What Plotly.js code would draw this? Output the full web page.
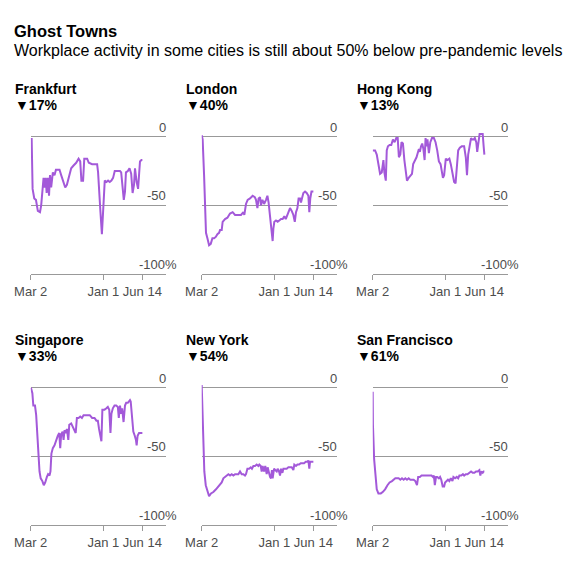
<!DOCTYPE html>
<html>
<head>
<meta charset="utf-8">
<script src="https://cdn.plot.ly/plotly-3.0.1.min.js"></script>
<style>html,body{margin:0;padding:0;background:#fff;}#chart{width:572px;height:569px;}</style>
</head>
<body>
<div id="chart"></div>
<script>
// ---- Data (days since Mar 2, 2020 ; % change in workplace activity) ----
const cityNames = ['Frankfurt', 'London', 'Hong Kong', 'Singapore', 'New York', 'San Francisco'];
const cityChanges = ['▼17%', '▼40%', '▼13%', '▼33%', '▼54%', '▼61%'];

const frankfurtDays = [4,8,15,22,30,39,44,49,54,58,63,67,72,77,81,86,93,100,106,113,121,128,138,145,152,162,170,180,191,201,208,213,220,225,237,244,258,272,279,283,289,293,299,303,307,311,318,325,332,339,346,353,363,375,380,386,391,396,400,408,415,422,428,434,438,445,451,455,459,465,469];
const frankfurtValues = [-1,-38,-45,-46,-54,-55,-50,-39,-30,-37,-30,-41,-30,-43,-28,-37,-26,-28,-24,-24,-24,-28,-33,-37,-35,-28,-23,-21,-19,-16,-18,-32,-32,-16,-16,-19,-20,-20,-20,-26,-40,-55,-71,-57,-35,-32,-33,-32,-33,-32,-30,-25,-25,-25,-26,-35,-46,-40,-26,-25,-23,-27,-41,-35,-23,-33,-38,-28,-18,-17,-17];

const londonDays = [0,4,10,14,18,24,31,38,45,52,59,66,73,77,84,88,98,108,119,130,140,151,165,175,179,186,193,203,214,223,228,234,239,245,249,255,262,270,276,281,287,293,298,301,305,312,319,326,333,340,347,353,360,365,371,378,385,391,396,402,407,413,417,421,427,434,441,448,452,456,461,465,469];
const londonValues = [1,-2,-28,-52,-70,-74,-79,-78,-74,-74,-73,-71,-70,-68,-68,-62,-60,-59,-56,-55,-57,-57,-57,-55,-57,-49,-46,-45,-43,-44,-46,-52,-45,-44,-50,-46,-49,-46,-43,-48,-60,-70,-76,-67,-62,-61,-62,-61,-60,-60,-58,-60,-57,-54,-52,-54,-57,-62,-55,-52,-45,-45,-48,-45,-41,-40,-41,-43,-55,-45,-40,-40,-40];

const hongKongDays = [0,10,17,24,31,38,45,49,55,59,64,71,78,85,92,99,105,110,116,121,127,133,140,144,151,158,165,170,177,184,194,198,203,208,213,218,222,226,230,236,242,249,257,264,271,278,285,290,295,300,307,314,322,328,335,342,348,353,359,366,374,384,391,396,401,407,413,418,424,429,435,439,444,449,458,462,466,469];
const hongKongValues = [-10,-10,-13,-20,-27,-26,-17,-26,-32,-10,-7,-6,-6,-2,-4,-1,-1,-15,-13,-4,-5,-17,-26,-32,-30,-28,-27,-20,-17,-15,-9,-11,-7,-5,-9,-17,-1,-7,-2,-12,-4,-1,-1,-4,-10,-18,-20,-26,-30,-28,-16,-17,-16,-20,-28,-33,-34,-21,-10,-8,-7,-7,-15,-28,-13,-7,-1,-2,-2,-1,-4,-11,-4,2,2,2,-7,-13];

const singaporeDays = [1,7,11,18,23,28,32,37,42,49,55,61,68,73,79,83,87,93,100,107,114,120,124,128,134,138,142,149,152,158,162,170,177,183,189,194,201,208,215,222,231,239,248,258,268,276,282,287,293,297,301,310,318,324,330,335,339,345,352,359,366,370,375,380,384,390,396,401,408,417,420,424,431,437,442,445,449,455,462,469];
const singaporeValues = [0,-4,-13,-13,-20,-35,-52,-61,-66,-68,-71,-69,-65,-63,-64,-61,-48,-44,-42,-38,-35,-33,-44,-34,-32,-38,-31,-33,-30,-38,-27,-26,-29,-31,-33,-22,-22,-21,-22,-20,-20,-20,-20,-22,-22,-24,-24,-30,-37,-39,-16,-16,-15,-14,-16,-33,-19,-15,-13,-13,-14,-22,-13,-19,-15,-25,-13,-11,-11,-9,-10,-20,-32,-35,-38,-42,-35,-33,-33,-33];

const newYorkDays = [0,3,7,11,17,24,31,39,49,60,70,77,84,91,98,105,112,119,126,133,140,147,154,161,168,175,182,186,192,199,206,211,217,224,231,238,242,248,252,256,262,267,273,277,281,287,291,295,298,304,309,315,319,325,329,333,339,343,350,357,364,371,378,385,389,396,402,409,416,423,430,437,444,448,452,455,461,466,469];
const newYorkValues = [2,-18,-44,-61,-71,-76,-79,-77,-76,-74,-72,-71,-69,-66,-65,-64,-63,-64,-63,-64,-63,-63,-63,-61,-63,-63,-64,-63,-59,-59,-58,-59,-57,-57,-56,-57,-56,-57,-61,-57,-61,-57,-63,-58,-61,-65,-66,-60,-66,-59,-60,-61,-59,-61,-64,-59,-62,-59,-59,-59,-58,-58,-58,-60,-56,-57,-56,-56,-55,-55,-55,-54,-54,-53,-59,-54,-54,-54,-54];

const sanFranciscoDays = [0,1,6,11,17,24,34,42,52,62,71,81,88,95,102,109,116,123,130,137,144,151,158,165,172,179,186,191,198,205,212,219,226,233,240,247,253,257,261,266,271,278,283,288,294,300,304,309,316,322,328,335,339,346,353,359,364,372,379,384,391,398,405,413,420,427,434,441,448,452,456,462,466,469];
const sanFranciscoValues = [-3,-27,-52,-66,-74,-77,-77,-76,-74,-71,-69,-68,-67,-66,-66,-66,-67,-66,-67,-66,-67,-66,-67,-67,-67,-68,-71,-65,-65,-64,-64,-64,-64,-64,-64,-64,-65,-64,-71,-65,-65,-66,-65,-67,-72,-72,-69,-68,-67,-68,-66,-68,-65,-66,-65,-66,-64,-64,-63,-64,-63,-63,-62,-61,-62,-62,-61,-61,-60,-64,-61,-62,-61,-61];

const cityDays = [frankfurtDays, londonDays, hongKongDays, singaporeDays, newYorkDays, sanFranciscoDays];
const cityValues = [frankfurtValues, londonValues, hongKongValues, singaporeValues, newYorkValues, sanFranciscoValues];

const xTickVals = ['2020-03-02', '2021-01-01', '2021-06-14'];
const xTickText = ['Mar 2', 'Jan 1', 'Jun 14'];
const yTickVals = [0, -50, -100];
const yTickText = ['0', '-50', '-100%'];
const xRange = ['2020-03-02', '2021-09-20'];
const yRange = [-100, 8];

const chartTitle = 'Ghost Towns';
const chartSubtitle = 'Workplace activity in some cities is still about 50% below pre-pandemic levels';

// ---- Layout helpers ----
const W = 572, H = 569;
const FONT = 'Liberation Sans, Arial, Helvetica, sans-serif';
const LINE_COLOR = '#a359d9';
const GRID_COLOR = '#999999';
const LABEL_COLOR = '#4d4d4d';
const colLeft = [30.7, 201.7, 372.7];
const plotW = 135;
const rowZero = [136.7, 387.7];    // pixel y of value 0
const rowBottom = [274, 525];      // pixel y of value -100
const rowTitleMid = [88.5, 339.5];
const rowChangeMid = [104.5, 355.5];
const px = v => v / W;
const py = v => 1 - v / H;
const START = Date.UTC(2020, 2, 2);
const toDate = d => new Date(START + d * 86400000).toISOString().slice(0, 10);

const traces = [];
const layout = {
  width: W, height: H, autosize: false,
  margin: {l: 0, r: 0, t: 0, b: 0},
  paper_bgcolor: '#fff', plot_bgcolor: '#fff',
  showlegend: false,
  font: {family: FONT, size: 13, color: LABEL_COLOR},
  annotations: []
};

layout.annotations.push({
  xref: 'paper', yref: 'paper', x: px(12), y: py(31.5), xanchor: 'left', yanchor: 'middle',
  text: '<b>' + chartTitle + '</b>', showarrow: false, font: {family: FONT, size: 16.5, color: '#000'}
});
layout.annotations.push({
  xref: 'paper', yref: 'paper', x: px(12), y: py(50.5), xanchor: 'left', yanchor: 'middle',
  text: chartSubtitle, showarrow: false, font: {family: FONT, size: 16, color: '#000'}
});

cityNames.forEach((name, i) => {
  const row = Math.floor(i / 3), col = i % 3;
  const n = i + 1;
  const xa = 'xaxis' + (n === 1 ? '' : n), ya = 'yaxis' + (n === 1 ? '' : n);
  const xr = 'x' + (n === 1 ? '' : n), yr = 'y' + (n === 1 ? '' : n);
  const pxPerUnit = (rowBottom[row] - rowZero[row]) / 100;
  const topPx = rowZero[row] - yRange[1] * pxPerUnit;

  traces.push({
    type: 'scatter', mode: 'lines',
    x: cityDays[i].map(toDate), y: cityValues[i],
    xaxis: xr, yaxis: yr,
    line: {color: LINE_COLOR, width: 2},
    hoverinfo: 'skip'
  });

  layout[xa] = {
    domain: [px(colLeft[col]), px(colLeft[col] + plotW)],
    anchor: yr, type: 'date', range: xRange,
    tickmode: 'array', tickvals: xTickVals, ticktext: xTickText,
    ticks: 'outside', ticklen: 5, tickcolor: GRID_COLOR, tickwidth: 1,
    showline: true, linecolor: GRID_COLOR, linewidth: 1,
    showgrid: false, zeroline: false, fixedrange: true,
    tickfont: {family: FONT, size: 13, color: LABEL_COLOR}
  };
  layout[ya] = {
    domain: [py(rowBottom[row]), py(topPx)],
    anchor: xr, range: yRange,
    tickmode: 'array', tickvals: yTickVals.slice(0, 2),
    showticklabels: false, ticks: '',
    showgrid: true, gridcolor: GRID_COLOR, gridwidth: 1,
    showline: false, zeroline: false, fixedrange: true
  };

  yTickVals.forEach((v, k) => {
    layout.annotations.push({
      xref: xr + ' domain', yref: yr, x: 1, y: v,
      xanchor: 'right', yanchor: 'bottom', xshift: (k === 2 ? 13 : 2), yshift: 0,
      text: yTickText[k], showarrow: false,
      font: {family: FONT, size: 13, color: LABEL_COLOR}
    });
  });

  layout.annotations.push({
    xref: 'paper', yref: 'paper', x: px(colLeft[col] - 18), y: py(rowTitleMid[row]),
    xanchor: 'left', yanchor: 'middle', text: '<b>' + name + '</b>', showarrow: false,
    font: {family: FONT, size: 14, color: '#000'}
  });
  layout.annotations.push({
    xref: 'paper', yref: 'paper', x: px(colLeft[col] - 18), y: py(rowChangeMid[row]),
    xanchor: 'left', yanchor: 'middle', text: '<b>' + cityChanges[i] + '</b>', showarrow: false,
    font: {family: FONT, size: 14, color: '#000'}
  });
});

Plotly.newPlot('chart', traces, layout, {staticPlot: true, displayModeBar: false});
</script>
</body>
</html>
